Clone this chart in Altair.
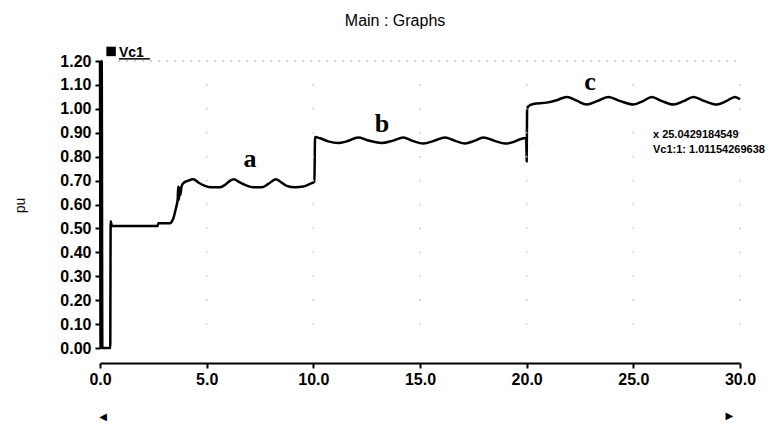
import altair as alt
import pandas as pd

# ---- data ----
# start-up transient
t_start = [0.0, 0.04, 0.08, 0.11, 0.48, 0.50, 0.56, 2.70, 2.73, 3.30, 3.36, 3.45, 3.52,
           3.60, 3.64, 3.67, 3.70, 3.74, 3.77, 3.82]
v_start = [1.20, 0.0, 1.20, 0.0, 0.0, 0.53, 0.51, 0.51, 0.522, 0.522, 0.528, 0.545, 0.57,
           0.60, 0.62, 0.675, 0.62, 0.67, 0.64, 0.675]
# section a
t_a = [3.91, 4.14, 4.38, 4.61, 4.92, 5.23, 5.63, 5.86, 6.09, 6.28, 6.48, 6.80, 7.19, 7.58,
       7.89, 8.25, 8.44, 8.75, 9.14, 9.53, 9.84, 10.05]
v_a = [0.689, 0.700, 0.706, 0.692, 0.678, 0.672, 0.672, 0.682, 0.699, 0.706, 0.696, 0.682,
       0.672, 0.672, 0.686, 0.706, 0.696, 0.678, 0.672, 0.675, 0.686, 0.696]
# section b
t_b = [10.08, 10.31, 10.70, 11.17, 11.56, 12.11, 12.50, 12.89, 13.20, 13.70, 14.22, 14.65,
       15.16, 15.65, 16.17, 16.65, 17.11, 17.55, 17.97, 18.50, 18.99, 19.40, 19.69, 19.98]
v_b = [0.882, 0.877, 0.864, 0.857, 0.864, 0.880, 0.870, 0.861, 0.857, 0.866, 0.880, 0.866,
       0.855, 0.866, 0.880, 0.866, 0.855, 0.866, 0.880, 0.866, 0.855, 0.862, 0.873, 0.878]
# transition at t = 20
t_step = [20.00, 20.02]
v_step = [0.78, 1.00]
# section c
t_c = [20.08, 20.31, 20.94, 21.40, 21.88, 22.35, 22.81, 23.30, 23.83, 24.40, 25.00, 25.45,
       25.86, 26.35, 26.88, 27.35, 27.81, 28.35, 28.91, 29.35, 29.77, 30.0]
v_c = [1.010, 1.020, 1.026, 1.036, 1.050, 1.034, 1.018, 1.032, 1.050, 1.032, 1.018, 1.032,
       1.050, 1.032, 1.018, 1.032, 1.050, 1.032, 1.018, 1.032, 1.050, 1.040]

x_ticks = [0, 5, 10, 15, 20, 25, 30]
y_ticks = [round(0.1 * i, 2) for i in range(13)]

labels_abc = ["a", "b", "c"]
labels_t = [7.03, 13.22, 22.97]
labels_v = [0.757, 0.904, 1.079]

readout_lines = ["x 25.0429184549", "Vc1:1: 1.01154269638"]
readout_t = [25.92, 25.92]
readout_v = [0.879, 0.816]

# ---- tables ----
t_all = t_start + t_a + t_b + t_step + t_c
v_all = v_start + v_a + v_b + v_step + v_c
df = pd.DataFrame({"t": t_all, "v": v_all, "order": list(range(len(t_all)))})

grid = pd.DataFrame([{"t": gx, "v": gy} for gx in x_ticks[1:] for gy in y_ticks[1:-1]])
top_rule = pd.DataFrame({"t": [0.85], "t2": [30.0], "v": [1.2]})
abc = pd.DataFrame({"label": labels_abc, "t": labels_t, "v": labels_v})
readout = pd.DataFrame({"label": readout_lines, "t": readout_t, "v": readout_v})
title_df = pd.DataFrame({"label": ["Main : Graphs"], "t": [13.83], "v": [1.345]})
legend_sq = pd.DataFrame({"t": [0.52], "v": [1.24]})
legend_txt = pd.DataFrame({"label": ["Vc1"], "t": [0.89], "v": [1.218]})
legend_ul = pd.DataFrame({"t": [0.89], "t2": [2.34], "v": [1.209]})
arrows = pd.DataFrame({"label": ["◀", "▶"], "t": [0.14, 29.5], "v": [-0.30, -0.295]})

FONT = "Liberation Sans"
xs = alt.Scale(domain=[0, 30], nice=False, zero=False)
ys = alt.Scale(domain=[0, 1.2], nice=False)

x_axis = alt.Axis(values=x_ticks, format=".1f", offset=15, grid=False,
                  domainColor="black", domainWidth=2, tickColor="black",
                  tickWidth=2, tickSize=5, labelFont=FONT, labelFontSize=16,
                  labelFontWeight="bold", labelColor="black", labelPadding=3,
                  labelFlush=False, labelOverlap=False)
y_axis = alt.Axis(values=y_ticks, format=".2f", grid=False,
                  domainColor="black", domainWidth=2, tickColor="black",
                  tickWidth=2, tickSize=5, labelFont=FONT, labelFontSize=16,
                  labelFontWeight="bold", labelColor="black", labelPadding=4,
                  labelOverlap=False,
                  titleFont=FONT, titleFontSize=14, titleFontWeight="normal",
                  titleColor="black", titleAngle=270, titleX=-80, titleY=144,
                  titleAlign="center", titleBaseline="middle")


def X():
    return alt.X("t:Q", scale=xs, title=None, axis=x_axis)


def Y():
    return alt.Y("v:Q", scale=ys, title="pu", axis=y_axis)


line = alt.Chart(df).mark_line(color="black", strokeWidth=2.5, strokeJoin="round",
                               interpolate="monotone").encode(
    x=X(), y=Y(), order="order:Q")

grid_layer = alt.Chart(grid).mark_point(filled=True, size=3, color="#c4c4c4", opacity=1).encode(
    x=X(), y=Y())

top_layer = alt.Chart(top_rule).mark_rule(color="#a0a0a0", strokeDash=[2, 6], strokeWidth=1).encode(
    x=X(), x2="t2:Q", y=Y())

abc_layer = alt.Chart(abc).mark_text(font="Liberation Serif", fontSize=26, fontWeight="bold",
                                     color="black", baseline="alphabetic", align="center").encode(
    x=X(), y=Y(), text="label:N")

readout_layer = alt.Chart(readout).mark_text(font=FONT, fontSize=11, fontWeight="bold",
                                             color="black", baseline="alphabetic",
                                             align="left").encode(
    x=X(), y=Y(), text="label:N")

title_layer = alt.Chart(title_df).mark_text(font=FONT, fontSize=16, color="black",
                                            baseline="alphabetic", align="center").encode(
    x=X(), y=Y(), text="label:N")

sq_layer = alt.Chart(legend_sq).mark_point(shape="square", filled=True, size=90, color="black",
                                           opacity=1).encode(
    x=X(), y=Y())

legend_text_layer = alt.Chart(legend_txt).mark_text(font=FONT, fontSize=14, fontWeight="bold",
                                                    color="black", baseline="alphabetic",
                                                    align="left").encode(
    x=X(), y=Y(), text="label:N")

ul_layer = alt.Chart(legend_ul).mark_rule(color="black", strokeWidth=1.5).encode(
    x=X(), x2="t2:Q", y=Y())

arrow_layer = alt.Chart(arrows).mark_text(font="DejaVu Sans", fontSize=10, color="black",
                                          baseline="alphabetic", align="center").encode(
    x=X(), y=Y(), text="label:N")

chart = alt.layer(
    line, grid_layer, top_layer, abc_layer, readout_layer, title_layer,
    sq_layer, legend_text_layer, ul_layer, arrow_layer
).properties(
    width=640, height=287,
    padding={"left": 92, "top": 53, "right": 35, "bottom": 75},
    autosize=alt.AutoSizeParams(type="none"),
    background="white",
).configure_view(stroke=None)

chart.save("out.html", embed_options={"renderer": "svg", "actions": False})
